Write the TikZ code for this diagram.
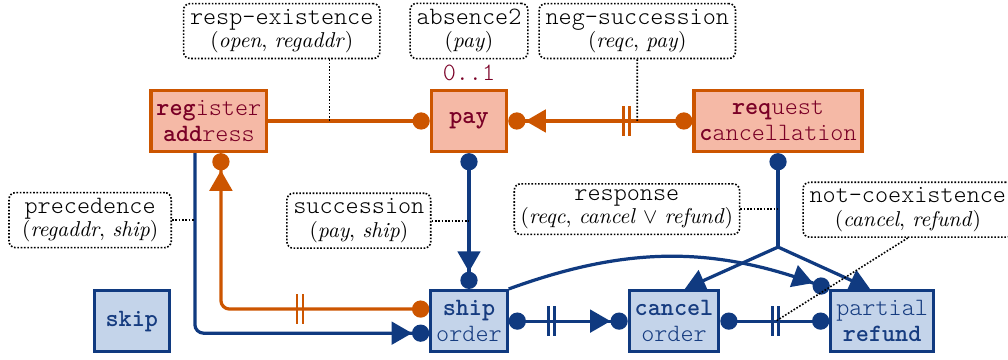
\documentclass[tikz,border=0pt]{standalone}
\usepackage{fontspec}
\setmonofont{lmmonolt10-regular.otf}[Scale=1.16, BoldFont=lmmonolt10-bold.otf]
\usetikzlibrary{positioning,arrows.meta}
\definecolor{or1}{RGB}{204,85,0}
\definecolor{or2}{RGB}{245,185,166}
\definecolor{ot}{RGB}{122,0,38}
\definecolor{bl1}{RGB}{16,58,128}
\definecolor{bl2}{RGB}{196,212,234}
\definecolor{bt}{RGB}{22,60,128}
\newcommand{\cargs}[1]{\textrm{(#1)}}

\begin{document}
\begin{tikzpicture}[
    on grid,
    font=\ttfamily,
    tri/.tip={Triangle[length=9.5pt,width=10.5pt,sep=0pt]},
    ball/.tip={Circle[length=8pt,sep=0pt]},
    a/.style={
        draw=or1, fill=or2, text=ot, line width=1.5pt,
        minimum width=35pt, minimum height=28.4pt,
        inner xsep=2.5pt, align=center
    },
    b/.style={a, draw=bl1, fill=bl2, text=bt},
    n/.style={
        draw, line width=0.75pt, dash pattern=on 0.75pt off 0.8pt,
        rounded corners=3pt, align=center,
        inner xsep=3pt, inner ysep=2.5pt
    },
    ol/.style={color=or1, line width=1.5pt},
    bl/.style={color=bl1, line width=1.5pt},
    d/.style={line width=0.75pt, dash pattern=on 0.75pt off 0.8pt},
    dbar/.pic={
        \draw [-, line width=1.3pt, #1] (-1.4pt,-6.8pt) -- (-1.4pt,6.8pt)
            (1.4pt,-6.8pt) -- (1.4pt,6.8pt);
    }
]

\useasboundingbox (-7.663,1.977) rectangle (8.807,-3.905);

\node [a] (pay) {\textbf{pay}};
\node [a, left=4.25cm of pay] (rega) {\textbf{reg}ister\\\textbf{add}ress};
\node [a, right=5.05cm of pay] (reqc) {\textbf{req}uest\\\textbf{c}ancellation};
\node [b, below=3.27cm of pay] (ship) {\textbf{ship}\\order};
\node [b, left=5.51cm of ship] (skip) {\textbf{skip}};
\node [b, right=3.35cm of ship] (canc) {\textbf{cancel}\\order};
\node [b, right=3.40cm of canc] (refd) {partial\\\textbf{refund}};

\node [text=ot, above=0.78cm of pay] (card) {0..1};

\node [n, above=1.47cm of pay] (abs) {absence2\\[-1pt]\cargs{\textit{pay}}};
\node [n, left=3.06cm of abs] (rex) {resp-existence\\[-1pt]\cargs{\textit{open}, \textit{regaddr}}};
\node [n, right=2.75cm of abs] (nsu) {neg-succession\\[-1pt]\cargs{\textit{reqc}, \textit{pay}}};
\node [n, minimum width=2.65cm, below left=1.62cm and 1.94cm of rega] (prec) {precedence\\[-1pt]\cargs{\textit{regaddr}, \textit{ship}}};
\node [n, below left=1.63cm and 1.80cm of pay] (succ) {succession\\[-1pt]\cargs{\textit{pay}, \textit{ship}}};
\node [n, below left=1.44cm and 2.47cm of reqc] (resp) {response\\[-1pt]\cargs{\textit{reqc}, \textit{cancel} $\vee$ \textit{refund}}};
\node [n, below right=1.45cm and 2.12cm of reqc] (ncx) {not-coexistence\\[-1pt]\cargs{\textit{cancel}, \textit{refund}}};

\draw [ol, -{ball[]}] (rega) -- coordinate[pos=.38] (c1) (pay);
\draw [ol, {ball[]}-{tri[] ball[]}] (reqc) -- pic[pos=.36]{dbar=or1} coordinate[pos=.3] (c2) (pay);
\draw [ol, rounded corners=4pt, {ball[]}-{tri[] ball[]}] ([yshift=5.6pt]ship.west) -| pic[pos=.31]{dbar=or1} ([xshift=5.6pt]rega.south);

\draw [bl, rounded corners=4pt, -{tri[] ball[]}] ([xshift=-6.5pt]rega.south) coordinate (c3) |- ([yshift=-5.6pt]ship.west);
\draw [bl, {ball[]}-{tri[] ball[]}] (pay) -- (ship);

\coordinate [below=2.06cm of reqc] (fk);
\draw [bl, {ball[]}-] (reqc) -- (fk);
\draw [bl, {tri[]}-{tri[]}] ([xshift=5pt]canc.north) -- (fk) -- ([xshift=-5.6pt]refd.north);

\draw [bl, -{tri[] ball[]}] (ship.north east) to [out=20, in=160] (refd.north west);
\draw [bl, {ball[]}-{tri[] ball[]}] (ship) -- pic[pos=.36]{dbar=bl1} (canc);
\draw [bl, {ball[]}-{ball[]}] (canc) -- pic[pos=.51]{dbar=bl1} coordinate[pos=.51] (c4) (refd);

\draw [d] (rex.south -| c1) -- (c1);
\draw [d] (nsu.south) -- (c2);
\draw [d] (prec) -- (prec -| c3);
\draw [d] (succ) -- (succ -| pay);
\draw [d] (resp) -- (resp -| reqc);
\draw [d] (ncx.south) -- (c4);

\end{tikzpicture}
\end{document}
